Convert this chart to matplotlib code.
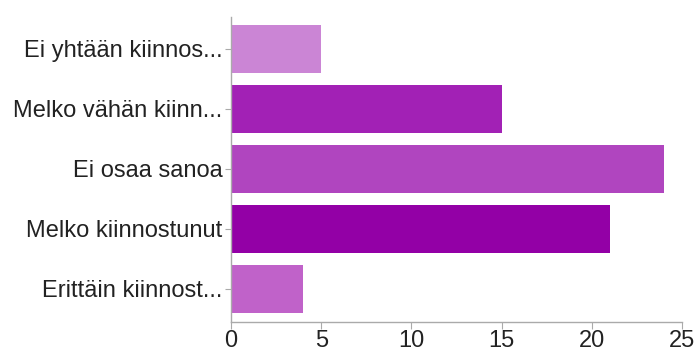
import matplotlib
matplotlib.use("Agg")
import matplotlib.pyplot as plt

# survey answers, top to bottom
labels = ["Ei yhtään kiinnos...", "Melko vähän kiinn...", "Ei osaa sanoa",
          "Melko kiinnostunut", "Erittäin kiinnost..."]
counts = [5, 15, 24, 21, 4]
colors = ["#cb85d5", "#a221b5", "#b045bf", "#9300a6", "#c062c9"]
xticks = [0, 5, 10, 15, 20, 25]

plt.rcParams["font.family"] = ["Liberation Sans", "DejaVu Sans"]

fig = plt.figure(figsize=(6.98, 3.53), dpi=100)
ax = fig.add_axes([0.331, 0.088, 0.646, 0.864])

pos = list(range(len(labels)))
ax.barh(pos, counts, height=0.8, color=colors)

ax.set_ylim(len(labels) - 0.45, -0.53)
ax.set_xlim(0, 25)
ax.set_yticks(pos)
ax.set_yticklabels(labels, fontsize=17, color="#222222")
ax.set_xticks(xticks)
ax.set_xticklabels([str(t) for t in xticks], fontsize=17, color="#222222")

for side in ["top", "right"]:
    ax.spines[side].set_visible(False)
for side in ["left", "bottom"]:
    ax.spines[side].set_color("#aaaaaa")
    ax.spines[side].set_linewidth(1)
ax.tick_params(axis="y", length=4, color="#aaaaaa", pad=2)
ax.tick_params(axis="x", length=5, color="#aaaaaa", pad=1)

fig.savefig("out.png", dpi=100)
